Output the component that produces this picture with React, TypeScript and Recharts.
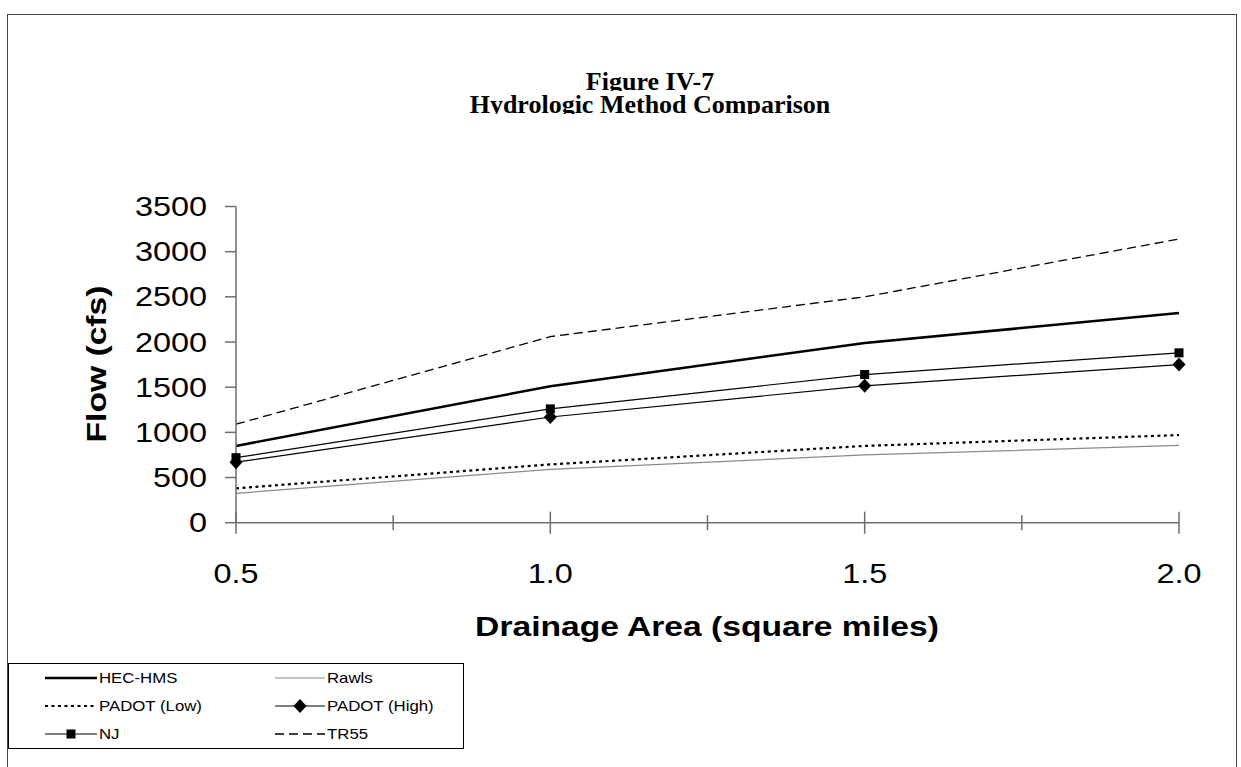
import { LineChart, Line, XAxis, YAxis } from "recharts";

// Figure IV-7, peak flow against drainage area for six hydrologic methods.
const areas = [0.5, 1.0, 1.5, 2.0];
const hecHms = [850, 1510, 1990, 2320];
const rawls = [325, 590, 750, 855];
const padotLow = [380, 645, 850, 970];
const padotHigh = [670, 1170, 1515, 1750];
const nj = [720, 1260, 1640, 1880];
const tr55 = [1090, 2060, 2500, 3140];

const yTicks = [0, 500, 1000, 1500, 2000, 2500, 3000, 3500];
const xTicks = [0.5, 0.75, 1.0, 1.25, 1.5, 1.75, 2.0];
const xLabelled = [0.5, 1.0, 1.5, 2.0];

const rows = areas.map((a, i) => ({
  area: a,
  hecHms: hecHms[i],
  rawls: rawls[i],
  padotLow: padotLow[i],
  padotHigh: padotHigh[i],
  nj: nj[i],
  tr55: tr55[i],
}));

const SANS = "'Liberation Sans', Arial, sans-serif";
const SERIF = "'Liberation Serif', 'Times New Roman', serif";
const AXIS = "#6e6e6e";
// the source text is drawn about 20% wider than plain Arial
const STRETCH = 1.2;

function Diamond({ cx, cy }: { cx?: number; cy?: number }) {
  if (cx == null || cy == null) return null;
  return <path d={`M${cx},${cy - 7} L${cx + 6.5},${cy} L${cx},${cy + 7} L${cx - 6.5},${cy} Z`} fill="#000" />;
}

function Square({ cx, cy }: { cx?: number; cy?: number }) {
  if (cx == null || cy == null) return null;
  return <rect x={cx - 4.5} y={cy - 4.5} width={9} height={9} fill="#000" />;
}

function YTick({ x, y, payload }: any) {
  return (
    <text transform={`translate(${x},${y + 9.5}) scale(${STRETCH},1)`} textAnchor="end" fontFamily={SANS} fontSize={27} fill="#000">
      {payload.value}
    </text>
  );
}

// ticks cross the axis; only every other one carries a label
function XTick({ x, y, payload }: any) {
  const major = xLabelled.includes(payload.value);
  const h = major ? 11 : 7.5;
  return (
    <g>
      <line x1={x} x2={x} y1={y - h} y2={y + h} stroke={AXIS} strokeWidth={1.5} />
      {major && (
        <text transform={`translate(${x},${y + 60}) scale(${STRETCH},1)`} textAnchor="middle" fontFamily={SANS} fontSize={27} fill="#000">
          {payload.value.toFixed(1)}
        </text>
      )}
    </g>
  );
}

type Entry = { label: string; dash?: string; width: number; color: string; marker?: "diamond" | "square" };
const legendEntries: Entry[] = [
  { label: "HEC-HMS", width: 2.5, color: "#000" },
  { label: "Rawls", width: 1.2, color: "#8a8a8a" },
  { label: "PADOT (Low)", width: 2, color: "#000", dash: "3 3.5" },
  { label: "PADOT (High)", width: 1.2, color: "#000", marker: "diamond" },
  { label: "NJ", width: 1.2, color: "#000", marker: "square" },
  { label: "TR55", width: 1.5, color: "#000", dash: "9 5" },
];

function LegendBox() {
  return (
    <div style={{ position: "absolute", left: 8, top: 663, width: 456, height: 86, border: "1px solid #000", boxSizing: "border-box", background: "#fff" }}>
      <svg width={456} height={86} style={{ position: "absolute", left: -1, top: -1 }}>
        {legendEntries.map((e, i) => {
          const col = i % 2;
          const row = Math.floor(i / 2);
          const x1 = col === 0 ? 37 : 267;
          const x2 = col === 0 ? 89 : 317;
          const cy = 15 + row * 28;
          const mid = (x1 + x2) / 2;
          return (
            <g key={e.label}>
              <line x1={x1} x2={x2} y1={cy} y2={cy} stroke={e.color} strokeWidth={e.width} strokeDasharray={e.dash} />
              {e.marker === "diamond" && <Diamond cx={mid} cy={cy} />}
              {e.marker === "square" && <Square cx={mid} cy={cy} />}
              <text transform={`translate(${x2 + 2},${cy + 5}) scale(${STRETCH},1)`} fontFamily={SANS} fontSize={14} fill="#000">
                {e.label}
              </text>
            </g>
          );
        })}
      </svg>
    </div>
  );
}

export default function App() {
  return (
    <div style={{ position: "absolute", left: 0, top: 0, width: 1241, height: 767, background: "#fff", overflow: "hidden" }}>
      <div style={{ position: "absolute", left: 7, top: 14, width: 1230, height: 800, border: "1.5px solid #444", boxSizing: "border-box" }} />

      <div style={{ position: "absolute", left: 0, width: 1300, top: 71, height: 20, overflow: "hidden", textAlign: "center", fontFamily: SERIF, fontWeight: "bold", fontSize: 26, lineHeight: "22px" }}>
        Figure IV-7
      </div>
      <div style={{ position: "absolute", left: 0, width: 1300, top: 94, height: 20, overflow: "hidden", textAlign: "center", fontFamily: SERIF, fontWeight: "bold", fontSize: 26, lineHeight: "22px" }}>
        Hydrologic Method Comparison
      </div>

      <div style={{ position: "absolute", left: 0, top: 0 }}>
        <LineChart width={1241} height={767} data={rows} margin={{ top: 206.5, right: 62, left: 176, bottom: 204.3 }}>
          <XAxis
            dataKey="area"
            type="number"
            domain={[0.5, 2.0]}
            ticks={xTicks}
            interval={0}
            height={40}
            tickSize={0}
            tickMargin={0}
            tickLine={false}
            axisLine={{ stroke: AXIS, strokeWidth: 1.5 }}
            tick={<XTick />}
          />
          <YAxis
            domain={[0, 3500]}
            ticks={yTicks}
            interval={0}
            width={60}
            tickSize={11}
            tickMargin={18}
            tickLine={{ stroke: AXIS, strokeWidth: 1.5 }}
            axisLine={{ stroke: AXIS, strokeWidth: 1.5 }}
            tick={<YTick />}
          />
          <Line dataKey="rawls" name="Rawls" stroke="#8a8a8a" strokeWidth={1.2} dot={false} isAnimationActive={false} />
          <Line dataKey="padotLow" name="PADOT (Low)" stroke="#000" strokeWidth={2.2} strokeDasharray="3 3.5" dot={false} isAnimationActive={false} />
          <Line dataKey="padotHigh" name="PADOT (High)" stroke="#000" strokeWidth={1.2} dot={<Diamond />} isAnimationActive={false} />
          <Line dataKey="nj" name="NJ" stroke="#000" strokeWidth={1.2} dot={<Square />} isAnimationActive={false} />
          <Line dataKey="hecHms" name="HEC-HMS" stroke="#000" strokeWidth={2.5} dot={false} isAnimationActive={false} />
          <Line dataKey="tr55" name="TR55" stroke="#000" strokeWidth={1.3} strokeDasharray="9 5" dot={false} isAnimationActive={false} />
        </LineChart>
      </div>

      <LegendBox />

      <div style={{ position: "absolute", left: 97, top: 364, width: 0, height: 0 }}>
        <div style={{ position: "absolute", left: -150, top: -16, width: 300, textAlign: "center", transform: `rotate(-90deg) scaleX(${STRETCH})`, fontFamily: SANS, fontWeight: "bold", fontSize: 28, lineHeight: "32px", whiteSpace: "nowrap" }}>
          Flow (cfs)
        </div>
      </div>

      <div style={{ position: "absolute", left: 407, top: 611, width: 600, height: 31, overflow: "hidden" }}>
        <div style={{ textAlign: "center", transform: `scaleX(${STRETCH})`, fontFamily: SANS, fontWeight: "bold", fontSize: 28, lineHeight: "32px", whiteSpace: "nowrap" }}>
          Drainage Area (square miles)
        </div>
      </div>
    </div>
  );
}
